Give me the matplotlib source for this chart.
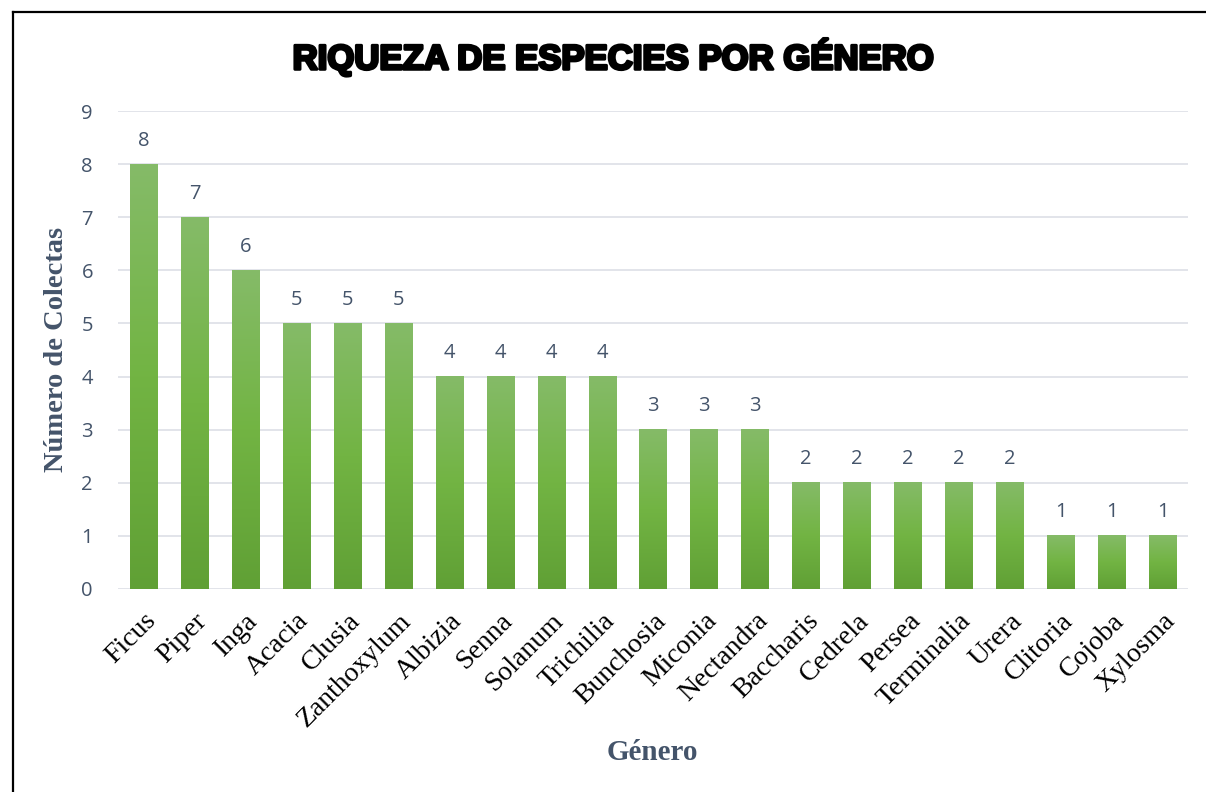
import numpy as np
import matplotlib
matplotlib.use("Agg")
import matplotlib.pyplot as plt
import matplotlib.patheffects as pe
from matplotlib.colors import LinearSegmentedColormap
from matplotlib.lines import Line2D

generos = ["Ficus", "Piper", "Inga", "Acacia", "Clusia", "Zanthoxylum", "Albizia",
           "Senna", "Solanum", "Trichilia", "Bunchosia", "Miconia", "Nectandra",
           "Baccharis", "Cedrela", "Persea", "Terminalia", "Urera", "Clitoria",
           "Cojoba", "Xylosma"]
colectas = [8, 7, 6, 5, 5, 5, 4, 4, 4, 4, 3, 3, 3, 2, 2, 2, 2, 2, 1, 1, 1]
yticks = list(range(0, 10))

W, H = 1206, 792
fig = plt.figure(figsize=(W / 100, H / 100), dpi=100)
ax = fig.add_axes([118 / W, 1 - 589 / H, (1188 - 118) / W, (589 - 111) / H])

x = np.arange(len(generos))
bars = ax.bar(x, colectas, width=0.53, color="none", zorder=3)

# vertical gradient inside each bar
cmap = LinearSegmentedColormap.from_list("verde", ["#60a035", "#72b443", "#85bb68"])
grad = np.linspace(0, 1, 256).reshape(-1, 1)
for b in bars:
    x0, w, h = b.get_x(), b.get_width(), b.get_height()
    ax.imshow(grad, cmap=cmap, aspect="auto", origin="lower",
              extent=(x0, x0 + w, 0, h), zorder=3)

ax.set_xlim(-0.5, len(generos) - 0.5)
ax.set_ylim(0, 9)
ax.set_yticks(yticks)

label_col = "#44546a"
for xi, v in zip(x, colectas):
    ax.annotate(str(v), (xi, v), xytext=(0, 17), textcoords="offset points",
                ha="center", va="center", fontsize=14.5, color=label_col,
                family="Open Sans")

ax.grid(axis="y", color="#dfe2e8", linewidth=1.3, zorder=0)
for s in ax.spines.values():
    s.set_visible(False)
ax.tick_params(length=0)
ax.tick_params(axis="y", labelsize=14.5, labelcolor=label_col, pad=18)
for t in ax.get_yticklabels():
    t.set_family("Open Sans")

ax.set_xticks(x)
ax.set_xticklabels(generos, rotation=45, ha="right", rotation_mode="anchor",
                   family="Liberation Serif", fontsize=20, color="black")
ax.tick_params(axis="x", pad=14)

fig.text(57 / W, 1 - 349 / H, "Número de Colectas", rotation=90, ha="center", va="center",
         family="Liberation Serif", fontweight="bold", fontsize=20.5, color=label_col)
fig.text(652 / W, 1 - 752 / H, "Género", ha="center", va="center",
         family="Liberation Serif", fontweight="bold", fontsize=21, color=label_col)

fig.text(614 / W, 1 - 57 / H, "RIQUEZA DE ESPECIES POR GÉNERO", ha="center", va="center",
         family="Liberation Sans", fontweight="bold", fontsize=25, color="black",
         path_effects=[pe.withStroke(linewidth=2.2, foreground="black")])

# outer frame of the chart area
fig.add_artist(Line2D([13 / W, 13 / W], [0, 1 - 12 / H], transform=fig.transFigure,
                      color="black", linewidth=1.6))
fig.add_artist(Line2D([13 / W, 1], [1 - 12 / H, 1 - 12 / H], transform=fig.transFigure,
                      color="black", linewidth=1.6))

fig.savefig("out.png", dpi=100)
